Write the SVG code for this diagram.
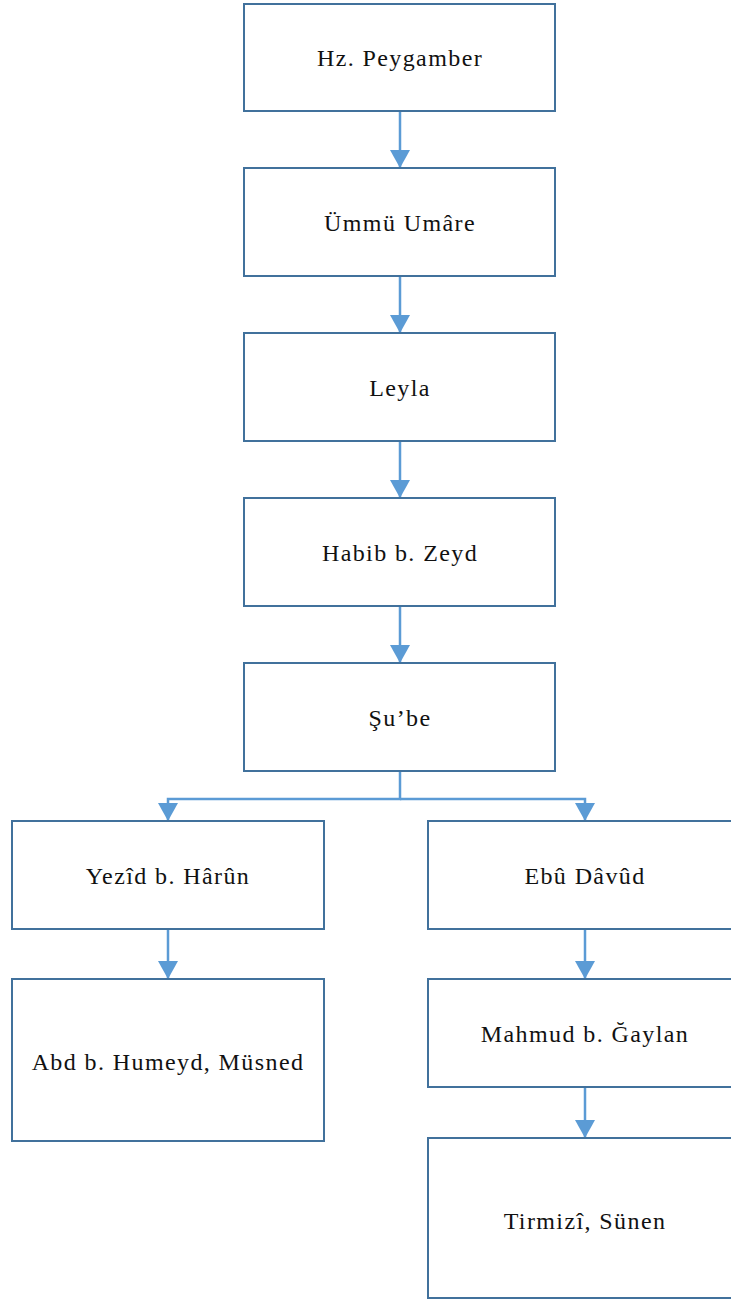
<svg xmlns="http://www.w3.org/2000/svg" width="731" height="1300" viewBox="0 0 731 1300">
<style>
.box{fill:#ffffff;stroke:#41719C;stroke-width:2}
.lbl{font-family:"Liberation Serif","Times New Roman",serif;font-size:24px;letter-spacing:1.4px;fill:#111;text-anchor:middle}
.con{fill:none;stroke:#5B9BD5;stroke-width:2.5}
</style>
<defs>
<marker id="ah" markerWidth="9" markerHeight="8" refX="8.5" refY="4" orient="auto" markerUnits="userSpaceOnUse" viewBox="0 0 9 8">
<path d="M0,0 L9,4 L0,8 Z" fill="#5B9BD5"/>
</marker>
<marker id="ah2" markerWidth="18" markerHeight="20" refX="17" refY="10" orient="auto" markerUnits="userSpaceOnUse" viewBox="0 0 18 20">
<path d="M0,0 L18,10 L0,20 Z" fill="#5B9BD5"/>
</marker>
</defs>
<rect width="731" height="1300" fill="#ffffff"/>
<g id="connectors">
<path class="con" d="M400,111 V167" marker-end="url(#ah2)"/>
<path class="con" d="M400,276 V332" marker-end="url(#ah2)"/>
<path class="con" d="M400,441 V497" marker-end="url(#ah2)"/>
<path class="con" d="M400,606 V662" marker-end="url(#ah2)"/>
<path class="con" d="M400,771 V799 H168 V820" marker-end="url(#ah2)"/>
<path class="con" d="M400,799 H585 V820" marker-end="url(#ah2)"/>
<path class="con" d="M168,929 V978" marker-end="url(#ah2)"/>
<path class="con" d="M585,929 V978" marker-end="url(#ah2)"/>
<path class="con" d="M585,1087 V1137" marker-end="url(#ah2)"/>
</g>
<g id="n1"><rect class="box" x="244" y="4" width="311" height="107"/><text class="lbl" x="400" y="66">Hz. Peygamber</text></g>
<g id="n2"><rect class="box" x="244" y="168" width="311" height="108"/><text class="lbl" x="400" y="231">Ümmü Umâre</text></g>
<g id="n3"><rect class="box" x="244" y="333" width="311" height="108"/><text class="lbl" x="400" y="396">Leyla</text></g>
<g id="n4"><rect class="box" x="244" y="498" width="311" height="108"/><text class="lbl" x="400" y="561">Habib b. Zeyd</text></g>
<g id="n5"><rect class="box" x="244" y="663" width="311" height="108"/><text class="lbl" x="400" y="726">Şu’be</text></g>
<g id="n6"><rect class="box" x="12" y="821" width="312" height="108"/><text class="lbl" x="168" y="884">Yezîd b. Hârûn</text></g>
<g id="n7"><rect class="box" x="428" y="821" width="312" height="108"/><text class="lbl" x="585" y="884">Ebû Dâvûd</text></g>
<g id="n8"><rect class="box" x="12" y="979" width="312" height="162"/><text class="lbl" x="168" y="1070">Abd b. Humeyd, Müsned</text></g>
<g id="n9"><rect class="box" x="428" y="979" width="312" height="108"/><text class="lbl" x="585" y="1042">Mahmud b. Ğaylan</text></g>
<g id="n10"><rect class="box" x="428" y="1138" width="312" height="160"/><text class="lbl" x="585" y="1229">Tirmizî, Sünen</text></g>
</svg>
